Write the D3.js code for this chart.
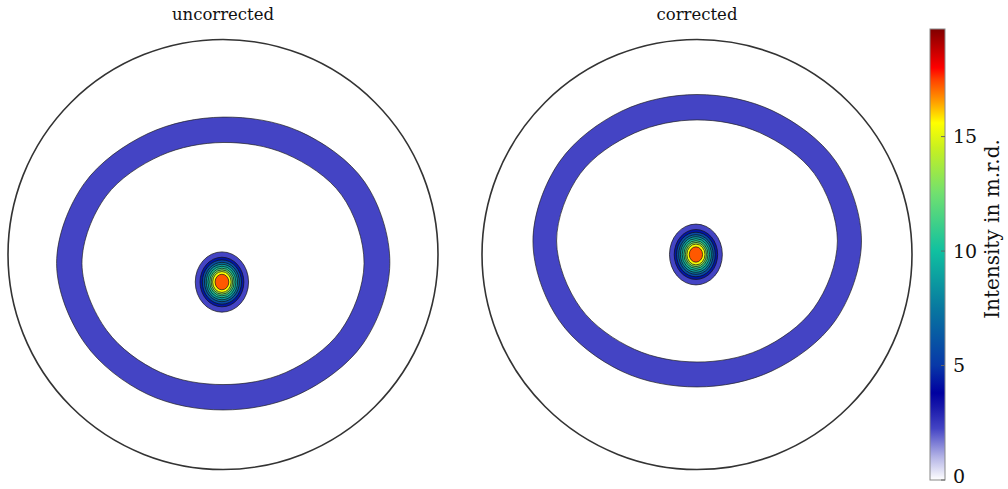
<!DOCTYPE html>
<html>
<head>
<meta charset="utf-8">
<script src="https://cdn.jsdelivr.net/npm/d3@7"></script>
<style>
  body { margin: 0; background: #fff; }
  svg text { font-family: 'DejaVu Serif', serif; fill: #111; }
</style>
</head>
<body>
<script>
// pole figure values (unit disk = pole figure radius)
const titles = ['uncorrected', 'corrected'];
const ringAngles = [0, 30, 60, 90, 120, 150, 180, 210, 240, 270, 300, 330];
const ringCenterUncorrected = [0, 0.042];
const ringCenterCorrected = [0, -0.063];
const ringOuterUncorrected = [0.776, 0.750, 0.703, 0.681, 0.702, 0.742, 0.774, 0.745, 0.698, 0.681, 0.710, 0.760];
const ringInnerUncorrected = [0.656, 0.630, 0.585, 0.563, 0.584, 0.624, 0.656, 0.628, 0.580, 0.563, 0.588, 0.637];
const ringOuterCorrected = [0.765, 0.742, 0.698, 0.679, 0.700, 0.740, 0.763, 0.738, 0.698, 0.681, 0.700, 0.744];
const ringInnerCorrected = [0.653, 0.627, 0.584, 0.563, 0.582, 0.625, 0.653, 0.627, 0.580, 0.563, 0.582, 0.629];
const peakCenterUncorrected = [-0.005, 0.128];
const peakCenterCorrected = [-0.005, 0];
const contourLevels = [1, 3.5, 5, 6.5, 8, 9.5, 11, 12.5, 14.5, 16.5];
const peakRadiiUncorrected = [0.124, 0.102, 0.091, 0.081, 0.073, 0.065, 0.057, 0.050, 0.043, 0.032];
const peakRadiiCorrected = [0.123, 0.101, 0.090, 0.080, 0.072, 0.064, 0.056, 0.049, 0.042, 0.031];
const peakAspect = [1.13, 1.15];
const peakMax = 18;

// colour bar
const cbarMax = 19.7;
const cbarTicks = [0, 5, 10, 15];
const cmapValues = [0, 1, 2.25, 3.2, 3.8, 5, 7.5, 10, 12.5, 14.5, 15.6, 16.5, 17.5, 18, 19.7];
const cmapColors = ['#ffffff', '#b4b4e6', '#4444c4', '#1818aa', '#0000a0', '#0838a8', '#0878a0',
  '#10c0a0', '#70e070', '#c8f020', '#ffff00', '#ffa000', '#ff4000', '#ff0000', '#800000'];

const width = 1008;
const height = 489;
const R = 215;
const centersX = [223, 697];
const centerY = 254.5;

const color = d3.scaleLinear().domain(cmapValues).range(cmapColors).interpolate(d3.interpolateRgb);

const svg = d3.select('body').append('svg')
  .attr('width', width)
  .attr('height', height);

const figs = [
  { ringC: ringCenterUncorrected, outer: ringOuterUncorrected, inner: ringInnerUncorrected,
    peakC: peakCenterUncorrected, radii: peakRadiiUncorrected, aspect: peakAspect[0] },
  { ringC: ringCenterCorrected, outer: ringOuterCorrected, inner: ringInnerCorrected,
    peakC: peakCenterCorrected, radii: peakRadiiCorrected, aspect: peakAspect[1] },
];

figs.forEach((f, i) => {
  const x = d3.scaleLinear().domain([-1, 1]).range([centersX[i] - R, centersX[i] + R]);
  const y = d3.scaleLinear().domain([-1, 1]).range([centerY - R, centerY + R]);
  const r = d3.scaleLinear().domain([0, 1]).range([0, R]);

  const g = svg.append('g');

  // ring band (lowest contour band)
  const radial = d3.lineRadial()
    .angle(d => (d[0] + 90) * Math.PI / 180)
    .radius(d => r(d[1]))
    .curve(d3.curveCatmullRomClosed.alpha(0.5));
  const outerPath = radial(ringAngles.map((a, k) => [a, f.outer[k]]));
  const innerPath = radial(ringAngles.map((a, k) => [a, f.inner[k]]));
  g.append('path')
    .attr('transform', `translate(${x(f.ringC[0])},${y(f.ringC[1])})`)
    .attr('d', outerPath + innerPath)
    .attr('fill-rule', 'evenodd')
    .attr('fill', color((contourLevels[0] + contourLevels[1]) / 2))
    .attr('stroke', '#222')
    .attr('stroke-width', 0.7);

  // central peak, filled contour bands
  g.selectAll('.band')
    .data(contourLevels)
    .enter().append('ellipse')
    .attr('class', 'band')
    .attr('cx', x(f.peakC[0]))
    .attr('cy', y(f.peakC[1]))
    .attr('rx', (d, k) => r(f.radii[k]))
    .attr('ry', (d, k) => r(f.radii[k]) * f.aspect)
    .attr('fill', (d, k) => color((d + (contourLevels[k + 1] || peakMax)) / 2))
    .attr('stroke', '#111')
    .attr('stroke-width', 0.7);

  // pole figure boundary
  g.append('circle')
    .attr('cx', x(0))
    .attr('cy', y(0))
    .attr('r', r(1))
    .attr('fill', 'none')
    .attr('stroke', '#333')
    .attr('stroke-width', 1.6);

  g.append('text')
    .attr('x', x(0))
    .attr('y', 20)
    .attr('text-anchor', 'middle')
    .style('font-size', '16.5px')
    .text(titles[i]);
});

// colour bar
const cb = { x: 930, w: 15, top: 29, bottom: 480 };
const cy = d3.scaleLinear().domain([0, cbarMax]).range([cb.bottom, cb.top]);

const grad = svg.append('defs').append('linearGradient')
  .attr('id', 'cmap')
  .attr('x1', 0).attr('y1', 1).attr('x2', 0).attr('y2', 0);
grad.selectAll('stop')
  .data(cmapValues)
  .enter().append('stop')
  .attr('offset', d => d / cbarMax)
  .attr('stop-color', d => color(d));

svg.append('rect')
  .attr('x', cb.x)
  .attr('y', cy(cbarMax))
  .attr('width', cb.w)
  .attr('height', cy(0) - cy(cbarMax))
  .attr('fill', 'url(#cmap)')
  .attr('stroke', '#888')
  .attr('stroke-width', 1);

svg.selectAll('.cbtick')
  .data(cbarTicks)
  .enter().append('line')
  .attr('class', 'cbtick')
  .attr('x1', cb.x + cb.w - 4)
  .attr('x2', cb.x + cb.w)
  .attr('y1', d => cy(d))
  .attr('y2', d => cy(d))
  .attr('stroke', '#666')
  .attr('stroke-width', 1);

svg.selectAll('.cblabel')
  .data(cbarTicks)
  .enter().append('text')
  .attr('class', 'cblabel')
  .attr('x', cb.x + cb.w + 8)
  .attr('y', d => Math.min(cy(d), cb.bottom - 4))
  .attr('dy', '0.35em')
  .style('font-size', '19px')
  .text(d => d);

svg.append('text')
  .attr('transform', `translate(${999},${229}) rotate(-90)`)
  .attr('text-anchor', 'middle')
  .style('font-size', '20px')
  .text('Intensity in m.r.d.');
</script>
</body>
</html>
